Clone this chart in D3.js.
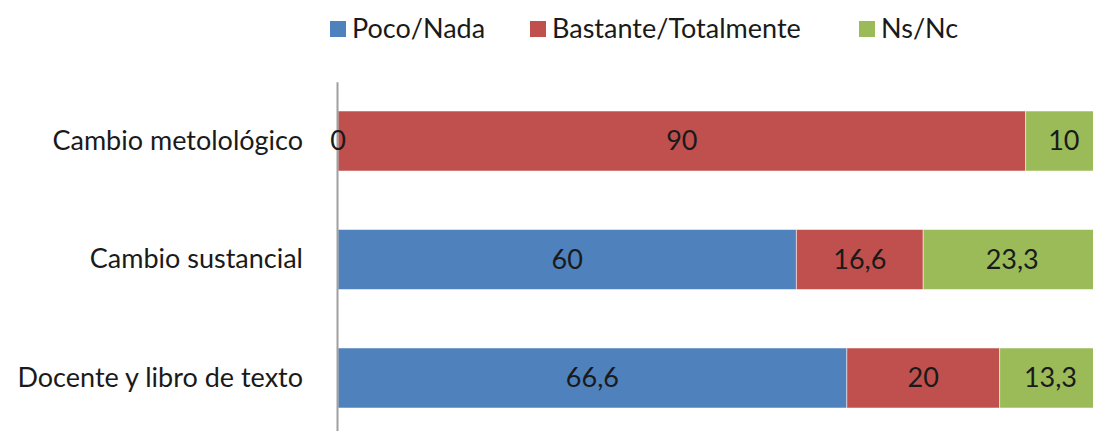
<html>
<head>
  <meta charset="utf-8">
  <script src="https://d3js.org/d3.v7.min.js"></script>
  <style>
    body { margin: 0; background: #fff; }
    svg text { font-family: 'Lato', sans-serif; fill: #1a1a1a; }
  </style>
</head>
<body>
  <div id="chart"></div>
  <script type="text/javascript">

    /*--- Chart Data ---*/
    var categories = ["Cambio metolológico", "Cambio sustancial", "Docente y libro de texto"],
      seriesNames = ["Poco/Nada", "Bastante/Totalmente", "Ns/Nc"],
      seriesColors = ["#4F81BD", "#C0504D", "#9BBB59"],
      pocoNada = [0, 60, 66.6],
      bastante = [90, 16.6, 20],
      nsNc = [10, 23.3, 13.3];

    var width = 1093, height = 431, fontSize = "27px";

    var rows = categories.map(function(c, i) {
      return { cat: c, "Poco/Nada": pocoNada[i], "Bastante/Totalmente": bastante[i], "Ns/Nc": nsNc[i] };
    });
    var stacked = d3.stack().keys(seriesNames)(rows);

    var x = d3.scaleLinear().domain([0, 100]).range([338, 1102]),
      y = d3.scaleBand().domain(categories).range([81.75, 437.25]).paddingInner(0.4937).paddingOuter(0.247),
      color = d3.scaleOrdinal().domain(seriesNames).range(seriesColors),
      fmt = function(v) { return String(v).replace(".", ","); };

    var svg = d3.select("#chart").append("svg")
      .attr("width", width).attr("height", height);

    /*--- Bars ---*/
    var layers = svg.selectAll("g.layer").data(stacked).enter()
      .append("g").attr("class", "layer")
      .attr("fill", function(d) { return color(d.key); });

    layers.selectAll("rect").data(function(d) { return d; }).enter()
      .append("rect")
      .attr("x", function(d) { return x(d[0]); })
      .attr("y", function(d) { return y(d.data.cat); })
      .attr("width", function(d) { return x(d[1]) - x(d[0]); })
      .attr("height", y.bandwidth())
      .attr("stroke", "#fff").attr("stroke-opacity", 0.5).attr("stroke-width", 1);

    /*--- Category axis ---*/
    var yAxis = d3.axisLeft(y).tickSize(0).tickPadding(34);
    var ax = svg.append("g").attr("transform", "translate(" + 337 + ",0)").call(yAxis);
    ax.select(".domain").attr("stroke", "#a0a0a0").attr("stroke-width", 2);
    ax.selectAll("text").style("font-size", fontSize).style("font-family", "Lato, sans-serif").attr("fill", "#1a1a1a");

    /*--- Value labels (drawn on top of every bar) ---*/
    var labels = [];
    stacked.forEach(function(s) {
      s.forEach(function(p) { labels.push({ key: s.key, x0: p[0], x1: p[1], cat: p.data.cat, v: p.data[s.key] }); });
    });
    svg.append("g").selectAll("text").data(labels).enter()
      .append("text")
      .attr("x", function(d) { return (x(d.x0) + x(d.x1)) / 2; })
      .attr("y", function(d) { return y(d.cat) + y.bandwidth() / 2; })
      .attr("dy", "0.35em")
      .attr("text-anchor", "middle")
      .style("font-size", fontSize)
      .text(function(d) { return fmt(d.v); });

    /*--- Legend ---*/
    var legendX = [330, 530, 859];
    var legend = svg.selectAll("g.legend").data(seriesNames).enter()
      .append("g").attr("class", "legend")
      .attr("transform", function(d, i) { return "translate(" + legendX[i] + ",21)"; });
    legend.append("rect").attr("width", 16).attr("height", 16)
      .attr("fill", function(d) { return color(d); });
    legend.append("text").attr("x", 22).attr("y", 8).attr("dy", "0.35em")
      .style("font-size", fontSize).text(function(d) { return d; });

  </script>
</body>
</html>
